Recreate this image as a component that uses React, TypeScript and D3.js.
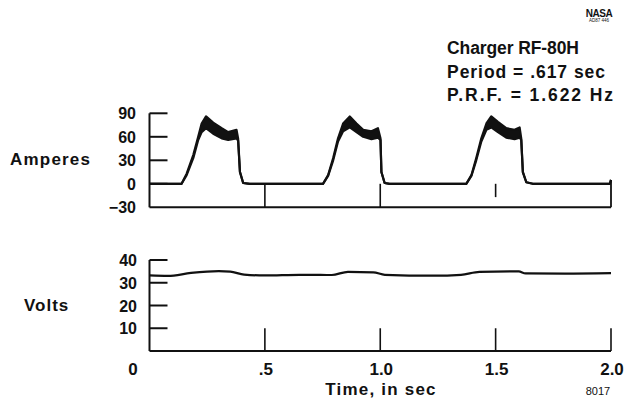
import React from "react";
import * as d3 from "d3";

// ---- Data ----
const ampTicks = [90, 60, 30, 0, -30];
const ampTickLabels = ["90", "60", "30", "0", "\u221230"];
const voltTicks = [40, 30, 20, 10];
const voltTickLabels = ["40", "30", "20", "10"];
const timeTicks = [0, 0.5, 1.0, 1.5, 2.0];
const timeTickLabels = ["0", ".5", "1.0", "1.5", "2.0"];

// Current trace (amperes): time, upper envelope, lower envelope of overlaid sweeps
const ampTime = [
  0.0, 0.139, 0.161, 0.19, 0.211, 0.226, 0.245, 0.276, 0.313, 0.341, 0.377, 0.384, 0.392, 0.406, 0.435,
  0.752, 0.774, 0.796, 0.817, 0.839, 0.868, 0.897, 0.926, 0.962, 0.99, 1.001, 1.005, 1.019, 1.041,
  1.373, 1.395, 1.416, 1.438, 1.46, 1.481, 1.51, 1.546, 1.582, 1.604, 1.611, 1.618, 1.633, 1.661,
  1.995, 2.0,
];
const ampUpper = [
  0, 0, 13, 37, 60, 77, 86, 78, 71, 66, 69, 58, 15, 1, 0,
  0, 11, 33, 58, 77, 86, 77, 69, 67, 71, 58, 15, 1, 0,
  0, 11, 33, 58, 77, 86, 79, 71, 69, 72, 58, 15, 2, 0,
  0, 5,
];
const ampLower = [
  0, 0, 11, 33, 56, 66, 71, 64, 58, 56, 58, 55, 15, 1, 0,
  0, 10, 30, 54, 67, 72, 66, 60, 57, 59, 56, 15, 1, 0,
  0, 10, 30, 54, 69, 72, 66, 59, 57, 59, 56, 15, 2, 0,
  0, 5,
];

// Voltage trace (volts)
const voltTime = [0.0, 0.08, 0.18, 0.3, 0.35, 0.41, 0.5, 0.65, 0.79, 0.86, 0.97, 1.02, 1.23, 1.35, 1.43, 1.6, 1.63, 1.8, 2.0];
const voltValues = [33.2, 33.0, 34.3, 35.1, 34.9, 33.6, 33.2, 33.5, 33.4, 34.8, 34.6, 33.5, 33.1, 33.5, 34.8, 35.0, 34.1, 34.0, 34.2];

const titleLines = ["Charger RF-80H", "Period = .617 sec", "P.R.F. = 1.622 Hz"];
const titleWidths = [132, 158, 166];

export default function App() {
  const W = 628;
  const H = 411;
  const x = d3.scaleLinear().domain([0, 2]).range([149.5, 611]);
  const yA = d3.scaleLinear().domain([-30, 90]).range([207.3, 113.3]);
  const yV = d3.scaleLinear().domain([0, 40]).range([351, 260]);

  const ampRows = ampTime.map((t, i) => ({ t, hi: ampUpper[i], lo: ampLower[i] }));
  const voltRows = voltTime.map((t, i) => ({ t, v: voltValues[i] }));

  const area = d3
    .area<{ t: number; hi: number; lo: number }>()
    .x((d) => x(d.t))
    .y0((d) => yA(d.lo))
    .y1((d) => yA(d.hi));
  const upperLine = d3
    .line<{ t: number; hi: number; lo: number }>()
    .x((d) => x(d.t))
    .y((d) => yA(d.hi));
  const lowerLine = d3
    .line<{ t: number; hi: number; lo: number }>()
    .x((d) => x(d.t))
    .y((d) => yA(d.lo));
  const vLine = d3
    .line<{ t: number; v: number }>()
    .x((d) => x(d.t))
    .y((d) => yV(d.v))
    .curve(d3.curveMonotoneX);

  const font = "'Liberation Sans', Arial, Helvetica, sans-serif";
  const ink = "#111";
  const ax = x(0);
  const aBottom = yA(-30);
  const vBottom = yV(0);

  return (
    <div style={{ position: "absolute", left: 0, top: 0 }}>
      <svg width={W} height={H} viewBox={`0 0 ${W} ${H}`} style={{ display: "block", background: "#fff" }}>
        <g fontFamily={font} fill={ink} fontWeight="bold">
          {/* NASA mark */}
          <text x={599} y={17} fontSize={10} textAnchor="middle" letterSpacing={-0.5}>NASA</text>
          <text x={599} y={22} fontSize={4.5} textAnchor="middle" fontWeight="normal">AD87 446</text>

          {/* Title block */}
          {titleLines.map((s, i) => (
            <text
              key={s}
              x={447}
              y={54 + i * 23.5}
              fontSize={17.5}
              textLength={titleWidths[i]}
              lengthAdjust="spacing"
            >
              {s}
            </text>
          ))}

          {/* Amperes panel */}
          <text x={10} y={165} fontSize={17} letterSpacing={1.2}>Amperes</text>
          {ampTicks.map((v, i) => (
            <g key={"a" + v}>
              {v !== -30 && (
                <line x1={ax} x2={ax + 18} y1={yA(v)} y2={yA(v)} stroke={ink} strokeWidth={2} />
              )}
              <text x={136} y={yA(v) + 6} fontSize={16} textAnchor="end">
                {ampTickLabels[i]}
              </text>
            </g>
          ))}
          <line x1={ax} x2={ax} y1={yA(90)} y2={aBottom} stroke={ink} strokeWidth={2} />
          <line x1={ax} x2={x(2)} y1={aBottom} y2={aBottom} stroke={ink} strokeWidth={2} />
          <line x1={x(2)} x2={x(2)} y1={180} y2={aBottom} stroke={ink} strokeWidth={1.8} />
          {timeTicks
            .filter((t) => t > 0 && t < 2)
            .map((t) => (
              <line
                key={"at" + t}
                x1={x(t)}
                x2={x(t)}
                y1={yA(0)}
                y2={t === 1.5 ? yA(-17) : aBottom}
                stroke={ink}
                strokeWidth={1.6}
              />
            ))}
          <path d={area(ampRows) || ""} fill={ink} stroke="none" />
          <path d={upperLine(ampRows) || ""} fill="none" stroke={ink} strokeWidth={2.2} strokeLinejoin="round" />
          <path d={lowerLine(ampRows) || ""} fill="none" stroke={ink} strokeWidth={2.2} strokeLinejoin="round" />

          {/* Volts panel */}
          <text x={24} y={311} fontSize={17} letterSpacing={1}>Volts</text>
          {voltTicks.map((v, i) => (
            <g key={"v" + v}>
              <line x1={ax} x2={ax + 18} y1={yV(v)} y2={yV(v)} stroke={ink} strokeWidth={2} />
              <text x={137} y={yV(v) + 6} fontSize={16} textAnchor="end">
                {voltTickLabels[i]}
              </text>
            </g>
          ))}
          <line x1={ax} x2={ax} y1={yV(40)} y2={vBottom} stroke={ink} strokeWidth={2} />
          <line x1={ax} x2={x(2)} y1={vBottom} y2={vBottom} stroke={ink} strokeWidth={2} />
          {timeTicks
            .filter((t) => t > 0)
            .map((t) => (
              <line
                key={"vt" + t}
                x1={x(t)}
                x2={x(t)}
                y1={yV(10)}
                y2={vBottom}
                stroke={ink}
                strokeWidth={1.6}
              />
            ))}
          <path d={vLine(voltRows) || ""} fill="none" stroke={ink} strokeWidth={2.2} />

          {/* Time axis labels */}
          {timeTicks.map((t, i) => (
            <text key={"tl" + t} x={t === 0 ? 133 : x(t) + 1} y={375} fontSize={17} textAnchor="middle">
              {timeTickLabels[i]}
            </text>
          ))}
          <text x={381} y={395} fontSize={17} textAnchor="middle" letterSpacing={1.2}>Time, in sec</text>
          <text x={598} y={395} fontSize={11} textAnchor="middle" fontWeight="normal">8017</text>
        </g>
      </svg>
    </div>
  );
}
